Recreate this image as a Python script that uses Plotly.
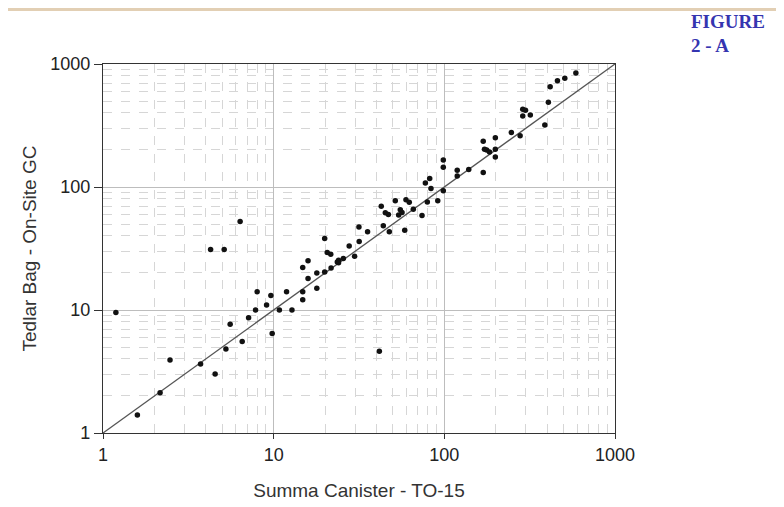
import plotly.graph_objects as go

# Summa Canister - TO-15 (x) vs Tedlar Bag - On-Site GC (y)
summa = [1.19, 6.36, 4.27, 5.13, 8.0, 9.63, 7.83, 9.09, 10.8, 12.8, 7.13, 5.56, 9.8, 6.54,
         5.25, 2.47, 3.73, 4.54, 2.16, 1.59, 11.9, 14.8, 14.8, 17.9, 15.9, 14.8, 15.9, 17.9,
         19.9, 19.9, 20.6, 21.6, 21.7, 23.6, 24.0, 25.6, 24.0, 27.7, 29.8, 31.7, 31.6, 35.5,
         42.7, 43.9, 45.1, 47.0, 47.6, 51.6, 55.2, 54.0, 56.5, 58.6, 59.6, 62.3, 65.8, 74.0,
         79.5, 91.5, 98.6, 83.5, 77.4, 82.1, 98.6, 98.6, 119, 119, 139, 169, 169, 172, 177,
         184, 199, 199, 199, 247, 278, 288, 299, 288, 319, 388, 407, 417, 460, 508, 590, 41.6]
tedlar = [9.55, 52.5, 31.1, 31.1, 14.1, 13.1, 10.0, 11.0, 10.0, 10.0, 8.63, 7.66, 6.44, 5.54,
          4.82, 3.93, 3.64, 3.02, 2.12, 1.40, 14.1, 14.1, 12.1, 15.0, 18.0, 22.2, 25.1, 20.0,
          20.4, 38.2, 29.4, 28.4, 22.0, 24.6, 25.4, 26.2, 24.2, 33.2, 27.3, 36.1, 47.2, 43.2,
          69.9, 48.3, 61.7, 59.8, 43.2, 77.2, 65.2, 59.1, 62.1, 44.4, 78.7, 75.0, 65.8, 58.7,
          75.4, 77.2, 93.2, 97.4, 108, 117, 145, 166, 137, 123, 139, 131, 236, 203, 200,
          193, 252, 203, 175, 278, 261, 428, 420, 377, 385, 319, 488, 653, 731, 765, 845, 4.62]

line_x = [1, 1000]
line_y = [1, 1000]
tick_vals = [1, 10, 100, 1000]
tick_text = ["1", "10", "100", "1000"]

fig = go.Figure()
fig.add_trace(go.Scatter(x=line_x, y=line_y, mode="lines",
                         line=dict(color="#555555", width=1.3), hoverinfo="skip", showlegend=False))
fig.add_trace(go.Scatter(x=summa, y=tedlar, mode="markers",
                         marker=dict(symbol="circle", size=5.5, color="#111111", line=dict(width=0)),
                         showlegend=False))

axis_common = dict(
    type="log", range=[0, 3], tickvals=tick_vals, ticktext=tick_text,
    showline=True, linecolor="#333333", linewidth=1.2, mirror=True,
    ticks="outside", tickcolor="#333333",
    showgrid=True, gridcolor="#BDBDBD", gridwidth=1,
    minor=dict(dtick="D1", showgrid=True, gridcolor="#D6D6D6", griddash="dash", gridwidth=1),
    tickfont=dict(family="Liberation Sans, Arial", size=18, color="#222222"),
    zeroline=False,
)

fig.update_xaxes(**axis_common, ticklen=5,
                 title=dict(text="Summa Canister - TO-15", standoff=19,
                            font=dict(family="Liberation Sans, Arial", size=19, color="#333333")))
fig.update_yaxes(**axis_common, ticklen=8,
                 title=dict(text="Tedlar Bag - On-Site GC", standoff=8,
                            font=dict(family="Liberation Sans, Arial", size=19, color="#333333")))

# page-pixel -> paper coordinate helpers (plot area spans page x 103.3..615, y 64..432.7)
def px_x(p):
    return (p - 103.3) / 511.7

def px_y(p):
    return (432.7 - p) / 368.7

tan = "#E2CFB4"
shapes = [dict(type="rect", xref="paper", yref="paper", x0=px_x(-20), x1=px_x(800),
               y0=px_y(11), y1=px_y(-20), fillcolor=tan, line=dict(width=0), layer="below")]

fig.update_layout(
    width=784, height=507,
    margin=dict(l=95, r=177, t=56, b=82),
    paper_bgcolor="white", plot_bgcolor="white",
    shapes=shapes,
    annotations=[
        dict(text="<b>FIGURE</b>", xref="paper", yref="paper", x=px_x(689), y=px_y(22),
             xanchor="left", yanchor="middle", showarrow=False,
             font=dict(family="Liberation Serif, Times New Roman", size=19, color="#3535B0")),
        dict(text="<b>2 - A</b>", xref="paper", yref="paper", x=px_x(689), y=px_y(46),
             xanchor="left", yanchor="middle", showarrow=False,
             font=dict(family="Liberation Serif, Times New Roman", size=19, color="#3535B0")),
    ],
)

fig.write_html("out.html")
